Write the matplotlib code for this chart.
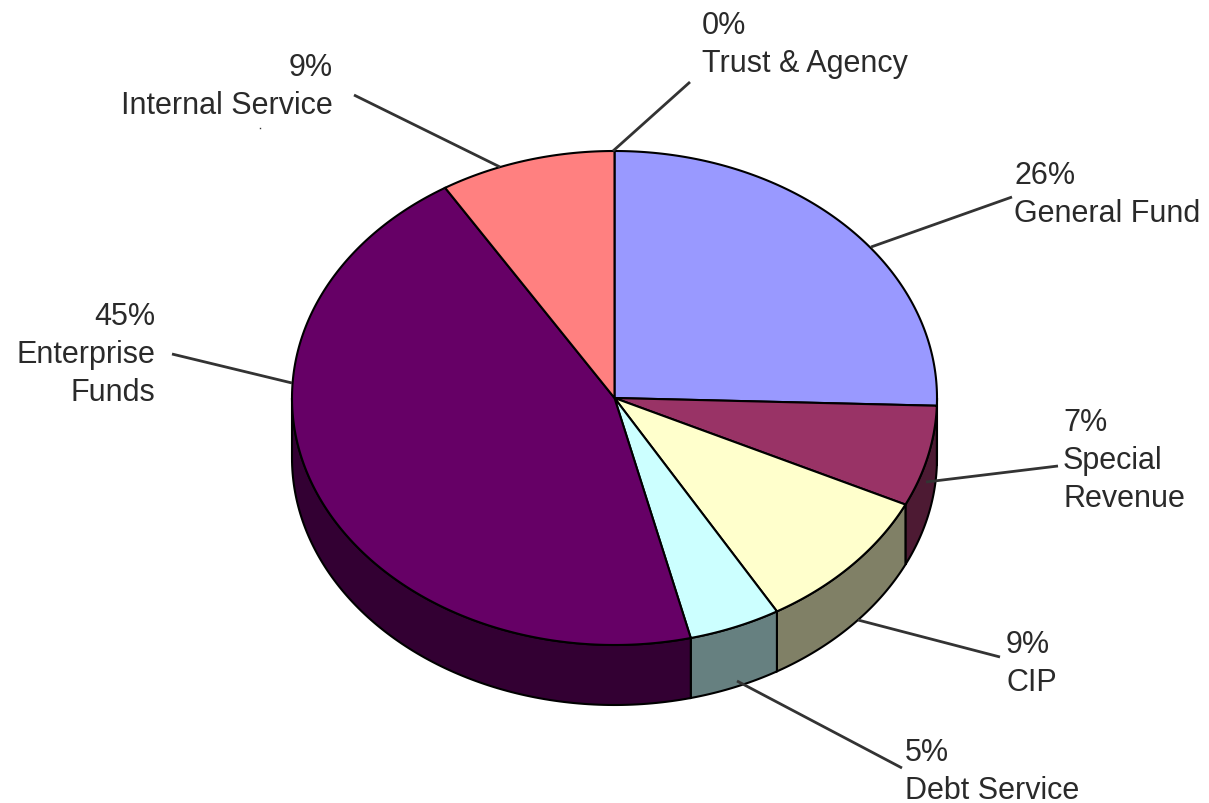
import numpy as np
import matplotlib
matplotlib.use("Agg")
import matplotlib.pyplot as plt
from matplotlib.patches import Polygon

plt.rcParams["font.family"] = ["Liberation Sans", "DejaVu Sans"]

# shares, clockwise from 12 o'clock
funds = ["General Fund", "Special\nRevenue", "CIP", "Debt Service",
         "Enterprise\nFunds", "Internal Service", "Trust & Agency"]
shares = [25.5, 6.6, 9.5, 4.6, 45.0, 8.8, 0.0]
pct_labels = ["26%", "7%", "9%", "5%", "45%", "9%", "0%"]
top_colors = ["#9999FF", "#993366", "#FFFFCC", "#CCFFFF", "#660066", "#FF8080", "#CCFFCC"]
side_colors = ["#4D4D80", "#4D1A33", "#808066", "#668080", "#330033", "#804040", "#668066"]

# pie geometry, in image pixels
cx, cy = 614.5, 399
rx, ry = 322.5, 247
depth = 60

# label anchor x, y of the first line's top, alignment
label_pos = [(1014, 161, "left"), (1063, 408, "left"), (1006, 630, "left"),
             (905, 738, "left"), (155, 302, "right"), (333, 53, "right"),
             (702, 11, "left")]
# leader line: from label to pie edge
leaders = [((1012, 198), (871, 248)), ((1058, 467), (926, 483)),
           ((1000, 658), (858, 621)), ((902, 769), (737, 682)),
           ((172, 355), (292, 384)), ((354, 96), (500, 168)),
           ((690, 83), (613, 152))]


def rim(t):
    return cx + rx * np.cos(t), cy + ry * np.sin(t)


fig = plt.figure(figsize=(12.09, 8.04), dpi=100)
ax = fig.add_axes([0, 0, 1, 1])
ax.set_xlim(0, 1209)
ax.set_ylim(804, 0)
ax.axis("off")

edges = np.radians(-90 + np.cumsum([0] + shares) * 3.6)

# walls first, only the front half of the ellipse shows
for i in range(len(shares)):
    a, b = max(edges[i], 0), min(edges[i + 1], np.pi)
    if b <= a:
        continue
    t = np.linspace(a, b, 120)
    x, y = rim(t)
    pts = np.r_[np.c_[x, y], np.c_[x, y + depth][::-1]]
    ax.add_patch(Polygon(pts, closed=True, fc=side_colors[i], ec="black", lw=1.5, zorder=2))

# top slices
for i in range(len(shares)):
    if shares[i] == 0:
        continue
    t = np.linspace(edges[i], edges[i + 1], 200)
    x, y = rim(t)
    pts = np.r_[[[cx, cy]], np.c_[x, y]]
    ax.add_patch(Polygon(pts, closed=True, fc=top_colors[i], ec="black", lw=1.5, zorder=3))

for (p, q) in leaders:
    ax.plot([p[0], q[0]], [p[1], q[1]], color="#333333", lw=2, zorder=4,
            solid_capstyle="butt")

for i in range(len(funds)):
    x, y, ha = label_pos[i]
    ax.text(x, y, pct_labels[i] + "\n" + funds[i], ha=ha, va="top",
            fontsize=22, color="#2a2a2a", linespacing=1.34)

# stray speck below "Internal Service" in the original
ax.plot([260], [129], marker="s", ms=1, color="#333333", mew=0)

fig.savefig("out.png", dpi=100)
